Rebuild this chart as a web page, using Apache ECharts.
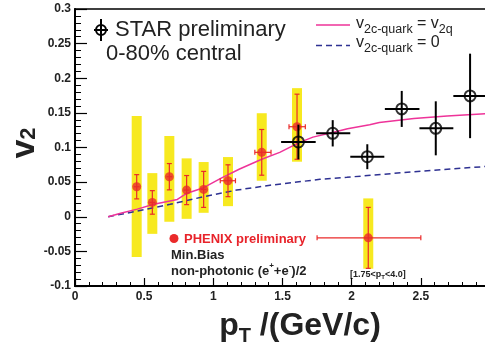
<!DOCTYPE html>
<html><head><meta charset="utf-8">
<script src="https://cdn.jsdelivr.net/npm/echarts@6/dist/echarts.min.js"></script>
<style>html,body{margin:0;padding:0;background:#fff}#c{width:485px;height:349px}</style>
</head><body><div id="c"></div>
<script>
// PHENIX preliminary (red points, stat errors, yellow systematic boxes)
const phenixX    = [0.446, 0.559, 0.682, 0.807, 0.930, 1.106, 1.350, 1.605, 2.12];
const phenixY    = [0.0433, 0.0207, 0.0578, 0.0385, 0.0395, 0.052, 0.093, 0.130, -0.0305];
const phenixErr  = [0.0175, 0.017, 0.019, 0.021, 0.026, 0.023, 0.033, 0.047, 0.044];
const phenixXLo  = [0.426, 0.539, 0.662, 0.787, 0.910, 1.05, 1.30, 1.547, 1.75];
const phenixXHi  = [0.466, 0.579, 0.702, 0.827, 0.950, 1.16, 1.417, 1.665, 2.50];
const phenixSysLo = [-0.058, -0.0247, -0.0074, -0.003, 0.0057, 0.0153, 0.052, 0.0795, -0.075];
const phenixSysHi = [0.1456, 0.063, 0.1166, 0.0843, 0.079, 0.0862, 0.1495, 0.1857, 0.0265];
// STAR preliminary 0-80% central (open black circles)
const starX   = [1.615, 1.863, 2.113, 2.362, 2.608, 2.856];
const starY   = [0.108, 0.1205, 0.0867, 0.1557, 0.1277, 0.1745];
const starXLo = [1.49, 1.743, 1.99, 2.24, 2.49, 2.735];
const starXHi = [1.74, 1.99, 2.236, 2.49, 2.735, 2.98];
const starErr = [0.025, 0.019, 0.018, 0.026, 0.039, 0.061];
// model curves
const pinkX = [0.24, 0.33, 0.45, 0.57, 0.74, 0.81, 0.93, 1.05, 1.19, 1.35, 1.48, 1.62, 1.72, 1.87, 1.97, 2.13, 2.2, 2.45, 2.69, 3.0];
const pinkY = [0, 0.005, 0.011, 0.018, 0.025, 0.034, 0.042, 0.055, 0.069, 0.083, 0.093, 0.107, 0.115, 0.122, 0.127, 0.133, 0.136, 0.142, 0.1456, 0.149];
const blueX = [0.24, 0.446, 0.687, 0.928, 1.169, 1.41, 1.77, 1.965, 2.446, 3.0];
const blueY = [0, 0.008, 0.018, 0.0288, 0.0385, 0.0455, 0.054, 0.057, 0.065, 0.073];

const FONT = "'Liberation Sans', Arial, Helvetica, sans-serif";
const RED = '#ea2a2a', YEL = '#f7e920', PINK = '#ee3399', BLUE = '#2e3192';

const sysData = phenixX.map((x, i) => [x, phenixSysLo[i], phenixSysHi[i]]);
const phErrData = phenixX.map((x, i) => [x, phenixY[i], phenixXLo[i], phenixXHi[i], phenixY[i] - phenixErr[i], phenixY[i] + phenixErr[i]]);
const stErrData = starX.map((x, i) => [x, starY[i], starXLo[i], starXHi[i], starY[i] - starErr[i], starY[i] + starErr[i]]);

function errRender(color, width, cap) {
  return function (params, api) {
    const x = api.value(0), y = api.value(1);
    const c = api.coord([x, y]);
    const l = api.coord([api.value(2), y]), r = api.coord([api.value(3), y]);
    const b = api.coord([x, api.value(4)]), t = api.coord([x, api.value(5)]);
    const st = { stroke: color, lineWidth: width };
    const ch = [
      { type: 'line', shape: { x1: c[0], y1: b[1], x2: c[0], y2: t[1] }, style: st },
      { type: 'line', shape: { x1: l[0], y1: c[1], x2: r[0], y2: c[1] }, style: st }
    ];
    if (cap) {
      ch.push({ type: 'line', shape: { x1: c[0] - cap, y1: b[1], x2: c[0] + cap, y2: b[1] }, style: st });
      ch.push({ type: 'line', shape: { x1: c[0] - cap, y1: t[1], x2: c[0] + cap, y2: t[1] }, style: st });
      if (r[0] - l[0] > 8) {
        ch.push({ type: 'line', shape: { x1: l[0], y1: c[1] - cap, x2: l[0], y2: c[1] + cap }, style: st });
        ch.push({ type: 'line', shape: { x1: r[0], y1: c[1] - cap, x2: r[0], y2: c[1] + cap }, style: st });
      }
    }
    return { type: 'group', children: ch };
  };
}

const chart = echarts.init(document.getElementById('c'), null, { renderer: 'canvas' });
chart.setOption({
  animation: false,
  backgroundColor: '#fff',
  grid: { left: 75, right: -5, top: 9, bottom: 63, show: true, borderColor: '#000', borderWidth: 1.5,
          containLabel: false, outerBoundsMode: 'none' },
  xAxis: {
    type: 'value', min: 0, max: 3, interval: 0.5,
    axisLine: { onZero: false, lineStyle: { color: '#000', width: 2 } },
    axisTick: { inside: true, length: 8, lineStyle: { color: '#000', width: 1.2 } },
    minorTick: { show: true, splitNumber: 5, length: 4, lineStyle: { color: '#000', width: 1 } },
    axisLabel: { fontFamily: FONT, fontWeight: 'bold', fontSize: 12, color: '#222', margin: 5, hideOverlap: false },
    splitLine: { show: false }
  },
  yAxis: {
    type: 'value', min: -0.1, max: 0.3, interval: 0.05,
    axisLine: { onZero: false, lineStyle: { color: '#000', width: 2 } },
    axisTick: { inside: true, length: 12, lineStyle: { color: '#000', width: 1.2 } },
    minorTick: { show: true, splitNumber: 5, length: 6, lineStyle: { color: '#000', width: 1 } },
    axisLabel: { fontFamily: FONT, fontWeight: 'bold', fontSize: 12, color: '#222', margin: 4 },
    splitLine: { show: false }
  },
  series: [
    { type: 'custom', name: 'sys', z: 1, data: sysData,
      renderItem: function (params, api) {
        const x = api.value(0);
        const p1 = api.coord([x, api.value(2)]), p2 = api.coord([x, api.value(1)]);
        return { type: 'rect', shape: { x: p1[0] - 5, y: p1[1], width: 10, height: p2[1] - p1[1] }, style: { fill: YEL } };
      } },
    { type: 'line', name: 'blue', z: 2, data: blueX.map((x, i) => [x, blueY[i]]), showSymbol: false,
      lineStyle: { color: BLUE, width: 1.5, type: [6, 4] } },
    { type: 'line', name: 'pink', z: 2, data: pinkX.map((x, i) => [x, pinkY[i]]), showSymbol: false,
      lineStyle: { color: PINK, width: 1.5 } },
    { type: 'custom', name: 'phErr', z: 3, data: phErrData, renderItem: errRender(RED, 1.2, 2.5) },
    { type: 'scatter', name: 'phenix', z: 4, data: phenixX.map((x, i) => [x, phenixY[i]]),
      symbol: 'circle', symbolSize: 9, itemStyle: { color: RED } },
    { type: 'custom', name: 'stErr', z: 5, data: stErrData, renderItem: errRender('#000', 2, 0) },
    { type: 'scatter', name: 'star', z: 6, data: starX.map((x, i) => [x, starY[i]]),
      symbol: 'circle', symbolSize: 11, itemStyle: { color: 'rgba(0,0,0,0)', borderColor: '#000', borderWidth: 2 } }
  ],
  graphic: [
    // STAR legend
    { type: 'line', shape: { x1: 101, y1: 19, x2: 101, y2: 41 }, style: { stroke: '#000', lineWidth: 2 } },
    { type: 'line', shape: { x1: 94, y1: 30, x2: 108, y2: 30 }, style: { stroke: '#000', lineWidth: 2 } },
    { type: 'circle', shape: { cx: 101, cy: 30, r: 5 }, style: { fill: 'none', stroke: '#000', lineWidth: 2 } },
    { type: 'text', x: 115, y: 30, style: { text: 'STAR preliminary', font: '22px ' + FONT, fill: '#222', verticalAlign: 'middle' } },
    { type: 'text', x: 106, y: 54, style: { text: '0-80% central', font: '22px ' + FONT, fill: '#222', verticalAlign: 'middle' } },
    // model legend
    { type: 'line', shape: { x1: 316, y1: 25, x2: 350, y2: 25 }, style: { stroke: PINK, lineWidth: 1.5 } },
    { type: 'line', shape: { x1: 316, y1: 45.5, x2: 350, y2: 45.5 }, style: { stroke: BLUE, lineWidth: 1.5, lineDash: [6, 4] } },
    { type: 'text', x: 356, y: 16, style: { text: '{v|v}{s|2c-quark}{v| = v}{s|2q}', fill: '#222',
      rich: { v: { fontFamily: FONT, fontSize: 16, lineHeight: 16, verticalAlign: 'top' },
              s: { fontFamily: FONT, fontSize: 12.5, lineHeight: 12.5, padding: [7, 0, 0, 0], verticalAlign: 'top' } } } },
    { type: 'text', x: 356, y: 35, style: { text: '{v|v}{s|2c-quark}{v| = 0}', fill: '#222',
      rich: { v: { fontFamily: FONT, fontSize: 16, lineHeight: 16, verticalAlign: 'top' },
              s: { fontFamily: FONT, fontSize: 12.5, lineHeight: 12.5, padding: [7, 0, 0, 0], verticalAlign: 'top' } } } },
    // PHENIX legend
    { type: 'circle', shape: { cx: 174, cy: 238.5, r: 4.5 }, style: { fill: RED } },
    { type: 'text', x: 184, y: 239, style: { text: 'PHENIX preliminary', font: 'bold 13px ' + FONT, fill: '#e8232a', verticalAlign: 'middle' } },
    { type: 'text', x: 171, y: 255, style: { text: 'Min.Bias', font: 'bold 13px ' + FONT, fill: '#222', verticalAlign: 'middle' } },
    { type: 'text', x: 171, y: 262, style: { text: '{n|non-photonic (e}{p|+}{n|+e}{p|-}{n|)/2}', fill: '#222',
      rich: { n: { fontFamily: FONT, fontWeight: 'bold', fontSize: 13, lineHeight: 13, padding: [3, 0, 0, 0], verticalAlign: 'top' },
              p: { fontFamily: FONT, fontWeight: 'bold', fontSize: 8, lineHeight: 8, verticalAlign: 'top' } } } },
    { type: 'text', x: 350, y: 270, style: { text: '{n|[1.75<p}{s|T}{n|<4.0]}', fill: '#222',
      rich: { n: { fontFamily: FONT, fontWeight: 'bold', fontSize: 9, lineHeight: 9, verticalAlign: 'top' },
              s: { fontFamily: FONT, fontWeight: 'bold', fontSize: 6, lineHeight: 6, padding: [4, 0, 0, 0], verticalAlign: 'top' } } } },
    // axis titles
    { type: 'text', x: 300, y: 310, style: { text: '{v|p}{s|T}{v| /(GeV/c)}', fill: '#222', align: 'center',
      rich: { v: { fontFamily: FONT, fontWeight: 'bold', fontSize: 32, lineHeight: 32, verticalAlign: 'top' },
              s: { fontFamily: FONT, fontWeight: 'bold', fontSize: 20, lineHeight: 20, padding: [16, 0, 0, 0], verticalAlign: 'top' } } } },
    { type: 'text', x: 25, y: 143, rotation: Math.PI / 2, style: { text: '{v|v}{s|2}', fill: '#222', align: 'center', verticalAlign: 'middle',
      rich: { v: { fontFamily: FONT, fontWeight: 'bold', fontSize: 34, lineHeight: 34, verticalAlign: 'top' },
              s: { fontFamily: FONT, fontWeight: 'bold', fontSize: 22, lineHeight: 22, padding: [10, 0, 0, 0], verticalAlign: 'top' } } } }
  ]
});
</script></body></html>
